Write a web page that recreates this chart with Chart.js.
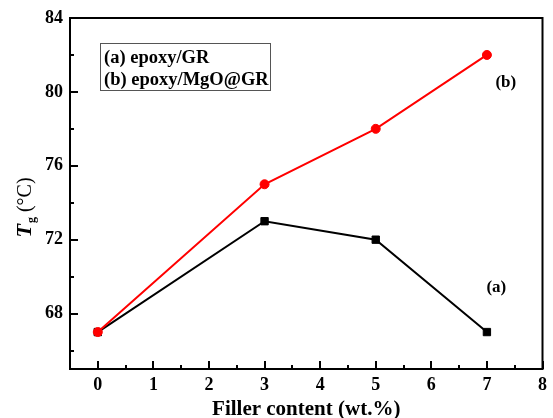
<!DOCTYPE html>
<html>
<head>
<meta charset="utf-8">
<script src="https://cdn.jsdelivr.net/npm/chart.js@4/dist/chart.umd.min.js"></script>
<style>
  html, body { margin: 0; padding: 0; background: #fff; }
  #wrap { width: 553px; height: 418px; }
</style>
</head>
<body>
<div id="wrap"><canvas id="tgChart" width="553" height="418"></canvas></div>
<script>
const fillerContent = [0, 3, 5, 7];
const tgEpoxyGR = [67, 73, 72, 67];
const tgEpoxyMgOGR = [67, 75, 78, 82];
const xTicks = [0, 1, 2, 3, 4, 5, 6, 7, 8];
const yTicks = [68, 72, 76, 80, 84];
const legendLabels = ["(a) epoxy/GR", "(b) epoxy/MgO@GR"];

const serif = "'Liberation Serif', 'Times New Roman', serif";

// ejes con ticks hacia dentro, marco completo y textos extra
const framePlugin = {
  id: "frame",
  afterDraw(chart) {
    const ctx = chart.ctx;
    const a = chart.chartArea;
    const xs = chart.scales.x;
    const ys = chart.scales.y;
    ctx.save();
    ctx.strokeStyle = "#000";
    ctx.lineWidth = 2;
    ctx.strokeRect(a.left, a.top, a.right - a.left, a.bottom - a.top);

    // ticks del eje x
    for (let v = 0; v <= 8; v += 0.5) {
      const px = Math.round(xs.getPixelForValue(v));
      const len = Number.isInteger(v) ? 8 : 4;
      ctx.beginPath();
      ctx.moveTo(px, a.bottom);
      ctx.lineTo(px, a.bottom - len);
      ctx.stroke();
    }
    // ticks del eje y
    for (let v = 66; v <= 84; v += 2) {
      const py = Math.round(ys.getPixelForValue(v));
      const len = v % 4 === 0 ? 8 : 4;
      ctx.beginPath();
      ctx.moveTo(a.left, py);
      ctx.lineTo(a.left + len, py);
      ctx.stroke();
    }

    // caja de leyenda
    ctx.lineWidth = 1;
    ctx.strokeStyle = "#555";
    ctx.strokeRect(100.5, 43.5, 170, 47);
    ctx.fillStyle = "#000";
    ctx.font = "bold 18.5px " + serif;
    ctx.textBaseline = "middle";
    ctx.textAlign = "left";
    ctx.fillText(legendLabels[0], 104, 58);
    ctx.fillText(legendLabels[1], 104, 80);

    // etiquetas (a) y (b)
    ctx.font = "bold 17px " + serif;
    ctx.textAlign = "center";
    ctx.fillText("(a)", xs.getPixelForValue(7.17), ys.getPixelForValue(69.4));
    ctx.fillText("(b)", xs.getPixelForValue(7.34), ys.getPixelForValue(80.5));

    // titulo eje x
    ctx.font = "bold 21px " + serif;
    ctx.textAlign = "center";
    ctx.textBaseline = "alphabetic";
    ctx.fillText("Filler content (wt.%)", (a.left + a.right) / 2, 415);

    // titulo eje y con subindice
    ctx.translate(31, 208);
    ctx.rotate(-Math.PI / 2);
    ctx.textAlign = "left";
    const partT = "T";
    const partG = "g";
    const partC = " (\u00B0C)";
    ctx.font = "italic bold 22px " + serif;
    const wT = ctx.measureText(partT).width;
    ctx.font = "bold 12px " + serif;
    const wG = ctx.measureText(partG).width;
    ctx.font = "20px " + serif;
    const wC = ctx.measureText(partC).width;
    const x0 = -(wT + wG + wC) / 2;
    ctx.font = "italic bold 22px " + serif;
    ctx.fillText(partT, x0, 0);
    ctx.font = "bold 12px " + serif;
    ctx.fillText(partG, x0 + wT + 1, 4);
    ctx.font = "20px " + serif;
    ctx.fillText(partC, x0 + wT + wG + 1, 0);
    ctx.restore();
  }
};

new Chart(document.getElementById("tgChart").getContext("2d"), {
  type: "line",
  data: {
    datasets: [
      {
        label: legendLabels[1],
        data: fillerContent.map((x, i) => ({ x: x, y: tgEpoxyMgOGR[i] })),
        borderColor: "#ff0000",
        backgroundColor: "#ff0000",
        borderWidth: 2,
        pointStyle: "circle",
        pointRadius: 4.5,
        pointBorderWidth: 1,
        pointHoverRadius: 4.5,
        order: 0,
      },
      {
        label: legendLabels[0],
        data: fillerContent.map((x, i) => ({ x: x, y: tgEpoxyGR[i] })),
        borderColor: "#000000",
        backgroundColor: "#000000",
        borderWidth: 2,
        pointStyle: "rect",
        pointRadius: 5.2,
        pointBorderWidth: 1,
        pointHoverRadius: 5.2,
        order: 1,
      },
    ],
  },
  options: {
    responsive: false,
    animation: false,
    events: [],
    layout: { padding: { top: 18, right: 5, left: 0, bottom: 0 } },
    plugins: { legend: { display: false }, tooltip: { enabled: false } },
    scales: {
      x: {
        type: "linear",
        min: -0.5,
        max: 8,
        afterFit(scale) { scale.height = 49; },
        afterBuildTicks(scale) { scale.ticks = xTicks.map(v => ({ value: v })); },
        grid: { display: false, drawTicks: false },
        border: { display: false },
        ticks: {
          padding: 6,
          color: "#000",
          font: { family: serif, size: 18, weight: "bold" },
        },
      },
      y: {
        min: 65,
        max: 84,
        afterFit(scale) { scale.width = 70; },
        afterBuildTicks(scale) { scale.ticks = yTicks.map(v => ({ value: v })); },
        grid: { display: false, drawTicks: false },
        border: { display: false },
        ticks: {
          padding: 7,
          color: "#000",
          font: { family: serif, size: 18, weight: "bold" },
        },
      },
    },
  },
  plugins: [framePlugin],
});
</script>
</body>
</html>
